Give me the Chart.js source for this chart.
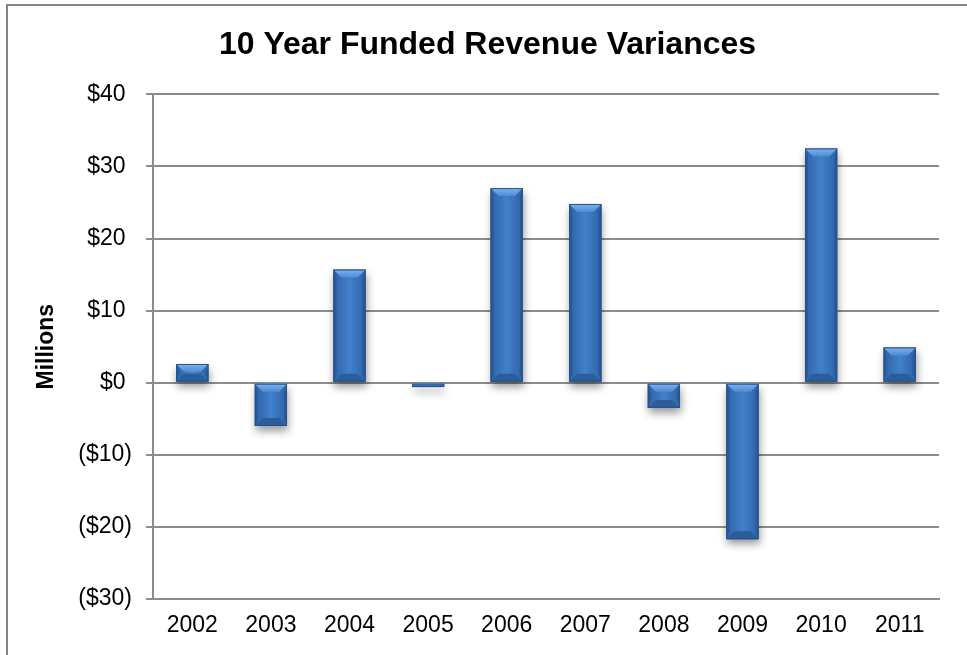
<!DOCTYPE html>
<html lang="en">
<head>
  <meta charset="utf-8" />
  <title>10 Year Funded Revenue Variances</title>
  <script src="https://cdn.jsdelivr.net/npm/chart.js@4.4.1/dist/chart.umd.min.js"></script>
  <style>
    * { box-sizing: border-box; }
    body { margin: 0; background: #fff; }
    .wrap { position: relative; width: 967px; height: 655px; }
    .frame {
      position: absolute;
      left: 6px;
      top: 4px;
      width: 980px;
      height: 700px;
      border-top: 2px solid #858585;
      border-left: 2px solid #858585;
      pointer-events: none;
    }
    canvas { position: absolute; left: 0; top: 0; }
  </style>
</head>
<body>
  <div class="wrap">
    <div class="frame"></div>
    <canvas id="chart" width="967" height="655"></canvas>
  </div>
  <script>
    // values in $ millions
    const YEARS = ["2002", "2003", "2004", "2005", "2006", "2007", "2008", "2009", "2010", "2011"];
    const VARIANCES = [2.6, -6.0, 15.7, -0.6, 27.0, 24.8, -3.5, -21.7, 32.5, 4.9];
    const Y_MIN = -30;
    const Y_MAX = 40;
    const Y_STEP = 10;

    const FONT = "'Liberation Sans', Arial, sans-serif";
    const GRID = "#8c8c8c";

    function formatMoney(v) {
      // Excel style $#,##0_);($#,##0) - positives get a trailing pad
      return v < 0 ? "($" + Math.abs(v) + ")" : "$" + v + " ";
    }

    // drop shadow under the bars
    const shadowPlugin = {
      id: "barShadow",
      beforeDatasetsDraw(chart) {
        const ctx = chart.ctx;
        ctx.save();
        ctx.shadowColor = "rgba(0, 0, 0, 0.4)";
        ctx.shadowBlur = 8;
        ctx.shadowOffsetX = 1;
        ctx.shadowOffsetY = 5;
      },
      afterDatasetsDraw(chart) {
        chart.ctx.restore();
      },
    };

    // bevel overlay on each bar, from the bar elements the library laid out
    const bevelPlugin = {
      id: "bevel",
      afterDatasetsDraw(chart) {
        const ctx = chart.ctx;
        const meta = chart.getDatasetMeta(0);
        ctx.save();
        meta.data.forEach((bar) => {
          const { x, y, base, width } = bar.getProps(["x", "y", "base", "width"], true);
          const l = x - width / 2;
          const r = x + width / 2;
          const t = Math.min(y, base);
          const b = Math.max(y, base);
          const h = b - t;
          const s = Math.min(8, h / 2);

          const body = ctx.createLinearGradient(l, 0, r, 0);
          body.addColorStop(0, "#2e62a5");
          body.addColorStop(0.5, "#4280cb");
          body.addColorStop(1, "#2e62a5");
          ctx.fillStyle = body;
          ctx.fillRect(l, t, width, h);

          // top facet
          const topG = ctx.createLinearGradient(0, t, 0, t + s);
          topG.addColorStop(0, "#7db3f0");
          topG.addColorStop(1, "#4f8ad3");
          ctx.fillStyle = topG;
          ctx.beginPath();
          ctx.moveTo(l, t);
          ctx.lineTo(r, t);
          ctx.lineTo(r - s, t + s);
          ctx.lineTo(l + s, t + s);
          ctx.closePath();
          ctx.fill();

          // bottom facet
          ctx.fillStyle = "#2c5d9b";
          ctx.beginPath();
          ctx.moveTo(l, b);
          ctx.lineTo(r, b);
          ctx.lineTo(r - s, b - s);
          ctx.lineTo(l + s, b - s);
          ctx.closePath();
          ctx.fill();

          // side facets
          const side = Math.min(3, s);
          ctx.fillStyle = "rgba(20, 50, 100, 0.25)";
          ctx.beginPath();
          ctx.moveTo(l, t);
          ctx.lineTo(l + side, t + s);
          ctx.lineTo(l + side, b - s);
          ctx.lineTo(l, b);
          ctx.closePath();
          ctx.fill();
          ctx.beginPath();
          ctx.moveTo(r, t);
          ctx.lineTo(r - side, t + s);
          ctx.lineTo(r - side, b - s);
          ctx.lineTo(r, b);
          ctx.closePath();
          ctx.fill();

          ctx.strokeStyle = "#2b5288";
          ctx.lineWidth = 1;
          ctx.strokeRect(l + 0.5, t + 0.5, width - 1, h - 1);
        });
        ctx.restore();
      },
    };

    const config = {
      type: "bar",
      data: {
        labels: YEARS,
        datasets: [
          {
            label: "Variance",
            data: VARIANCES,
            backgroundColor: "#3a74bc",
            borderWidth: 0,
            barPercentage: 0.41,
            categoryPercentage: 1,
          },
        ],
      },
      plugins: [shadowPlugin, bevelPlugin],
      options: {
        responsive: false,
        animation: false,
        layout: { padding: { left: 8, right: 0, top: 0, bottom: 0 } },
        plugins: {
          legend: { display: false },
          tooltip: { enabled: false },
          title: {
            display: true,
            text: "10 Year Funded Revenue Variances",
            color: "#000",
            font: { family: FONT, size: 32, weight: "bold" },
            padding: { top: 26, bottom: 30 },
          },
        },
        scales: {
          x: {
            grid: { display: false, drawTicks: false },
            border: { display: true, color: GRID, width: 2 },
            ticks: {
              color: "#000",
              font: { family: FONT, size: 23 },
              padding: 13,
            },
            afterFit(scale) {
              scale.height = 56;
            },
          },
          y: {
            min: Y_MIN,
            max: Y_MAX,
            grid: { color: GRID, lineWidth: 2, tickLength: 7 },
            border: { display: true, color: GRID, width: 2 },
            ticks: {
              stepSize: Y_STEP,
              color: "#000",
              font: { family: FONT, size: 23 },
              padding: 14,
              callback: (v) => formatMoney(v),
            },
            title: {
              display: true,
              text: "Millions",
              color: "#000",
              font: { family: FONT, size: 23, weight: "bold" },
              padding: { top: 25, bottom: 0 },
            },
            afterFit(scale) {
              scale.width = 145;
            },
          },
          // empty right margin so the title centres across the whole frame
          spacer: {
            type: "linear",
            position: "right",
            min: Y_MIN,
            max: Y_MAX,
            grid: { display: false },
            border: { display: false },
            ticks: { display: false },
            afterFit(scale) {
              scale.width = 28;
            },
          },
        },
      },
    };

    new Chart(document.getElementById("chart"), config);
  </script>
</body>
</html>
